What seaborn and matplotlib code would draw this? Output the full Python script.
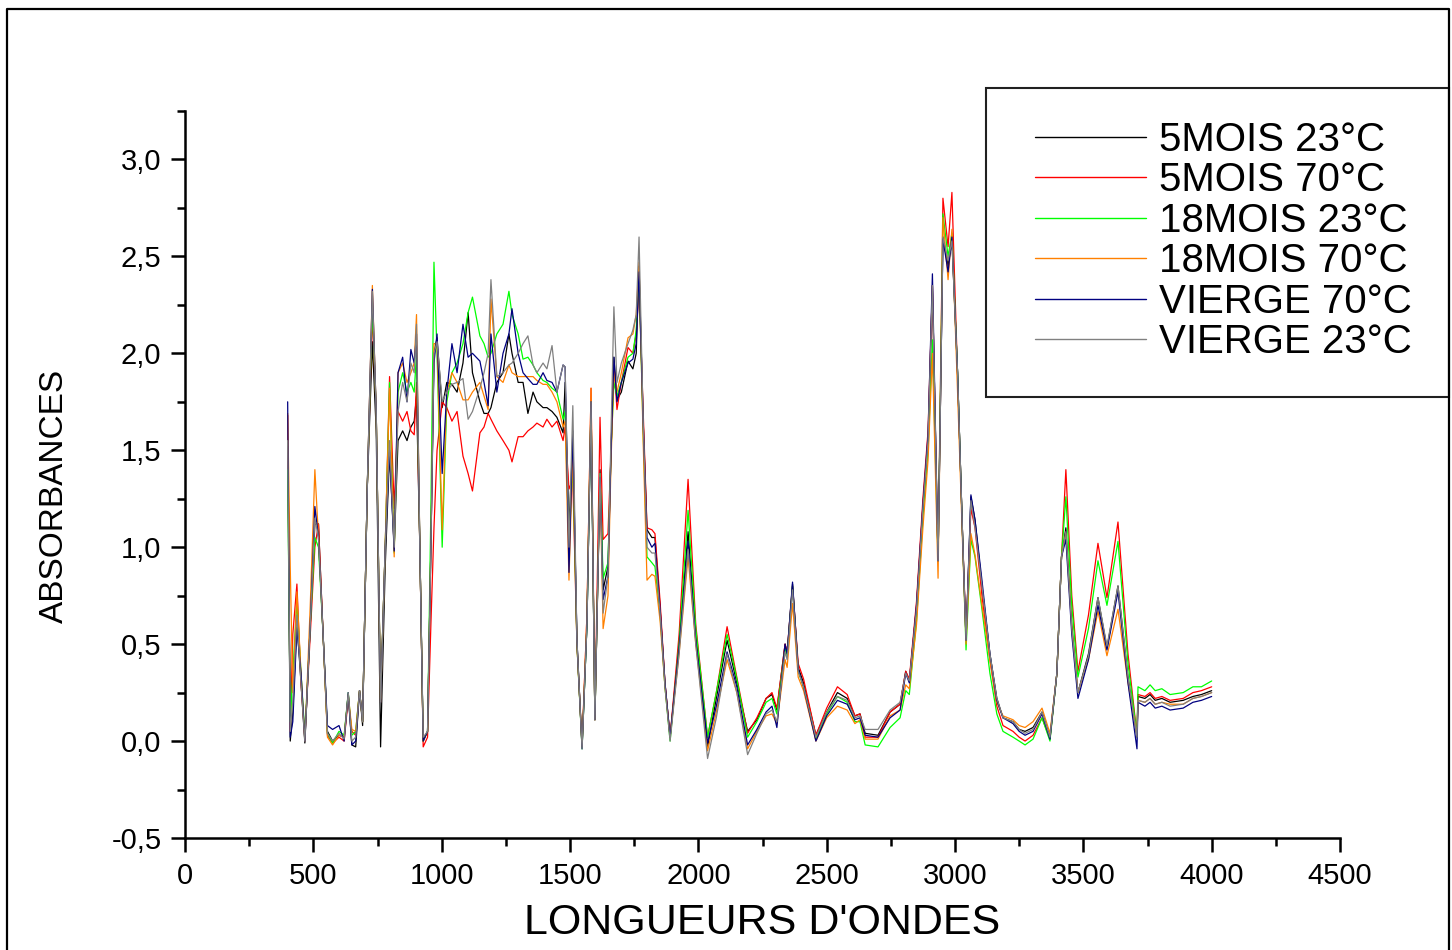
import matplotlib
matplotlib.use("Agg")
import matplotlib.pyplot as plt
import pandas as pd
import seaborn as sns
from matplotlib.lines import Line2D
from matplotlib.patches import Rectangle
from matplotlib.ticker import FuncFormatter, MultipleLocator

# wavenumbers (cm-1) shared by all six spectra
wavenumber = [
    400, 410, 420, 436, 452, 467, 488, 506, 520, 538, 555, 575, 600, 620, 636, 650, 665, 680, 692,
    710, 730, 745, 762, 780, 797, 815, 830, 848, 865, 880, 893, 902, 915, 928, 945, 958, 970,
    982, 1002, 1020, 1040, 1060, 1083, 1103, 1120, 1149, 1165, 1181, 1192, 1215, 1239, 1262,
    1274, 1298, 1317, 1336, 1356, 1371, 1395, 1410, 1430, 1449, 1473,
    1481, 1496, 1511, 1527, 1547, 1566, 1582, 1597, 1617, 1629, 1648, 1660, 1671, 1683, 1700,
    1726, 1745, 1758, 1769, 1785, 1800, 1819, 1831, 1851, 1870, 1890,
    1925, 1960, 1990, 2036, 2070, 2112, 2150, 2192, 2228, 2264, 2287, 2306, 2338, 2346, 2367,
    2389, 2410, 2458, 2500, 2542, 2580, 2610, 2630, 2650, 2700, 2747, 2786, 2808, 2822, 2850,
    2875, 2895,
    2912, 2934, 2953, 2973, 2988, 3010, 3030, 3043, 3062, 3078, 3105, 3136, 3163, 3187, 3226,
    3250, 3273, 3304, 3339, 3370, 3397, 3415, 3432, 3455, 3479, 3520, 3557, 3592, 3635, 3674,
    3709, 3713, 3740, 3760, 3780, 3806, 3838, 3889, 3927, 3960, 4000,
]

mois5_23 = [
    1.52, 0.00, 0.15, 0.62, 0.30, -0.01, 0.60, 1.12, 1.12, 0.55, 0.05, 0.00, 0.03, 0.02, 0.24, -0.02, -0.03, 0.26, 0.08,
    1.30, 2.06, 1.60, -0.03, 0.90, 1.49, 1.00, 1.55, 1.60, 1.55, 1.62, 1.65, 1.78, 1.00, 0.00, 0.05, 1.00, 2.00,
    2.08, 1.72, 1.85, 1.84, 1.80, 1.95, 2.21, 1.90, 1.75, 1.69, 1.69, 1.72, 1.85, 1.90, 2.10,
    2.00, 1.85, 1.85, 1.69, 1.80, 1.75, 1.72, 1.72, 1.70, 1.67, 1.59,
    1.85, 1.10, 1.55, 0.52, -0.03, 0.60, 1.72, 0.11, 1.40, 0.78, 0.90, 1.50, 1.98, 1.76, 1.80,
    1.96, 1.92, 2.00, 2.45, 1.66, 1.09, 1.05, 1.05, 0.69, 0.30, 0.02,
    0.50, 1.08, 0.55, -0.03, 0.22, 0.52, 0.30, 0.05, 0.11, 0.22, 0.24, 0.16, 0.50, 0.45, 0.81,
    0.38, 0.30, 0.03, 0.15, 0.25, 0.22, 0.13, 0.14, 0.04, 0.03, 0.15, 0.19, 0.36, 0.31, 0.69,
    1.21, 1.55,
    2.35, 0.93, 2.60, 2.45, 2.58, 1.90, 1.04, 0.52, 1.26, 1.14, 0.80, 0.45, 0.22, 0.12, 0.10,
    0.06, 0.05, 0.07, 0.15, 0.02, 0.35, 0.95, 1.10, 0.60, 0.25, 0.45, 0.74, 0.48, 0.80, 0.33,
    0.02, 0.23, 0.22, 0.24, 0.21, 0.22, 0.20, 0.21, 0.23, 0.24, 0.26,
]

mois5_70 = [
    1.68, 0.05, 0.55, 0.81, 0.30, 0.02, 0.55, 1.00, 1.12, 0.55, 0.03, -0.01, 0.02, 0.00, 0.22, 0.05, 0.03, 0.26, 0.10,
    1.30, 2.20, 1.70, 0.22, 1.00, 1.88, 1.20, 1.70, 1.65, 1.70, 1.60, 1.58, 1.85, 1.00, -0.03, 0.02, 0.60, 1.10,
    1.50, 1.75, 1.72, 1.65, 1.70, 1.47, 1.38, 1.29, 1.59, 1.62, 1.69, 1.66, 1.60, 1.55, 1.50,
    1.44, 1.57, 1.57, 1.60, 1.62, 1.64, 1.62, 1.66, 1.62, 1.65, 1.55,
    1.62, 1.30, 1.35, 0.50, -0.02, 0.65, 1.82, 0.11, 1.67, 1.04, 1.07, 1.50, 1.95, 1.71, 1.85,
    2.03, 2.00, 2.10, 2.35, 1.70, 1.10, 1.09, 1.07, 0.72, 0.30, 0.02,
    0.55, 1.35, 0.60, 0.02, 0.25, 0.59, 0.33, 0.04, 0.12, 0.22, 0.25, 0.17, 0.50, 0.46, 0.80,
    0.40, 0.32, 0.03, 0.17, 0.28, 0.24, 0.13, 0.14, 0.02, 0.02, 0.15, 0.19, 0.36, 0.32, 0.72,
    1.25, 1.60,
    2.35, 0.93, 2.80, 2.55, 2.83, 1.90, 1.04, 0.55, 1.20, 1.10, 0.75, 0.42, 0.18, 0.08, 0.05,
    0.02, 0.00, 0.03, 0.12, 0.01, 0.35, 0.95, 1.40, 0.75, 0.36, 0.65, 1.02, 0.74, 1.13, 0.45,
    0.03, 0.24, 0.23, 0.25, 0.22, 0.23, 0.21, 0.22, 0.25, 0.26, 0.28,
]

mois18_23 = [
    1.40, 0.10, 0.35, 0.72, 0.35, 0.03, 0.60, 1.05, 1.00, 0.55, 0.04, -0.01, 0.05, 0.03, 0.25, 0.03, 0.05, 0.26, 0.10,
    1.30, 2.25, 1.70, 0.22, 1.00, 1.85, 0.97, 1.80, 1.90, 1.80, 1.85, 1.80, 2.00, 1.00, 0.00, 0.05, 1.20, 2.47,
    2.00, 1.00, 1.75, 1.90, 1.95, 2.05, 2.21, 2.29, 2.09, 2.05, 1.98, 2.00, 2.10, 2.15, 2.32,
    2.20, 2.10, 1.97, 1.98, 1.94, 1.90, 1.86, 1.85, 1.82, 1.80, 1.66,
    1.70, 1.00, 1.45, 0.50, -0.04, 0.60, 1.75, 0.11, 1.38, 0.84, 0.92, 1.50, 1.85, 1.78, 1.85,
    1.98, 2.00, 2.12, 2.40, 1.60, 0.95, 0.92, 0.90, 0.65, 0.28, 0.00,
    0.50, 1.19, 0.58, 0.02, 0.25, 0.55, 0.32, 0.02, 0.10, 0.20, 0.22, 0.14, 0.48, 0.44, 0.80,
    0.36, 0.28, 0.01, 0.14, 0.23, 0.20, 0.10, 0.10, -0.02, -0.03, 0.07, 0.12, 0.26, 0.24, 0.62,
    1.15, 1.50,
    2.07, 0.93, 2.72, 2.50, 2.62, 1.90, 1.04, 0.47, 1.04, 0.95, 0.68, 0.35, 0.14, 0.05, 0.02,
    0.00, -0.02, 0.01, 0.12, 0.00, 0.35, 0.95, 1.26, 0.70, 0.33, 0.58, 0.93, 0.70, 1.03, 0.40,
    0.03, 0.28, 0.26, 0.29, 0.26, 0.27, 0.24, 0.25, 0.28, 0.28, 0.31,
]

mois18_70 = [
    1.69, 0.90, 0.25, 0.77, 0.35, 0.00, 0.70, 1.40, 1.05, 0.55, 0.02, -0.02, 0.03, 0.02, 0.24, 0.06, 0.05, 0.26, 0.10,
    1.30, 2.35, 1.70, 0.20, 1.00, 1.82, 0.95, 1.90, 1.95, 1.85, 1.90, 1.95, 2.20, 1.00, 0.00, 0.05, 1.00, 2.05,
    2.05, 1.09, 1.80, 1.90, 1.85, 1.76, 1.76, 1.80, 1.85, 1.78, 1.71, 2.28, 1.88, 1.85, 1.94,
    1.90, 1.88, 1.88, 1.88, 1.88, 1.86, 1.84, 1.84, 1.80, 1.75, 1.62,
    1.65, 0.83, 1.50, 0.50, -0.03, 0.65, 1.82, 0.11, 1.35, 0.58, 0.75, 1.45, 1.90, 1.80, 1.90,
    2.08, 2.10, 2.20, 2.47, 1.55, 0.83, 0.86, 0.85, 0.62, 0.28, 0.02,
    0.45, 0.95, 0.50, -0.05, 0.15, 0.42, 0.25, -0.04, 0.05, 0.13, 0.14, 0.09, 0.42, 0.38, 0.71,
    0.33, 0.26, 0.00, 0.12, 0.18, 0.16, 0.09, 0.11, 0.01, 0.01, 0.13, 0.16, 0.29, 0.27, 0.60,
    1.10, 1.45,
    2.00, 0.84, 2.70, 2.38, 2.64, 1.80, 1.00, 0.50, 1.07, 0.96, 0.70, 0.42, 0.20, 0.13, 0.11,
    0.08, 0.07, 0.10, 0.17, 0.04, 0.35, 0.95, 1.07, 0.58, 0.25, 0.42, 0.67, 0.44, 0.68, 0.30,
    0.03, 0.21, 0.20, 0.22, 0.19, 0.20, 0.19, 0.19, 0.22, 0.23, 0.25,
]

vierge_70 = [
    1.75, 0.02, 0.10, 0.58, 0.35, 0.00, 0.60, 1.21, 1.05, 0.55, 0.08, 0.06, 0.08, 0.00, 0.25, -0.02, 0.00, 0.26, 0.10,
    1.30, 2.33, 1.70, 0.20, 1.00, 1.50, 0.98, 1.90, 1.98, 1.75, 2.02, 1.95, 2.10, 1.00, 0.00, 0.05, 1.00, 1.95,
    2.10, 1.38, 1.80, 2.05, 1.90, 2.15, 1.98, 2.00, 1.96, 1.85, 1.73, 2.10, 1.80, 2.00, 2.10,
    2.23, 2.00, 1.90, 1.87, 1.84, 1.84, 1.90, 1.86, 1.85, 1.80, 1.94,
    1.93, 0.87, 1.60, 0.52, -0.04, 0.60, 1.75, 0.11, 1.36, 0.73, 0.85, 1.50, 1.98, 1.75, 1.85,
    1.95, 1.97, 2.05, 2.42, 1.65, 1.05, 1.00, 1.02, 0.68, 0.30, 0.02,
    0.48, 1.03, 0.52, -0.01, 0.18, 0.46, 0.28, -0.02, 0.06, 0.15, 0.18, 0.07, 0.50, 0.45, 0.82,
    0.37, 0.28, 0.00, 0.13, 0.21, 0.19, 0.11, 0.12, 0.03, 0.02, 0.12, 0.16, 0.35, 0.30, 0.70,
    1.22, 1.58,
    2.41, 0.93, 2.59, 2.42, 2.60, 1.90, 1.04, 0.52, 1.27, 1.14, 0.83, 0.45, 0.21, 0.12, 0.09,
    0.05, 0.03, 0.05, 0.14, 0.01, 0.35, 0.95, 1.04, 0.55, 0.22, 0.42, 0.70, 0.47, 0.77, 0.30,
    -0.04, 0.20, 0.18, 0.20, 0.17, 0.18, 0.16, 0.17, 0.20, 0.21, 0.23,
]

vierge_23 = [
    1.55, 0.05, 0.20, 0.65, 0.30, 0.00, 0.60, 1.15, 1.05, 0.55, 0.04, 0.00, 0.04, 0.01, 0.25, 0.00, 0.02, 0.26, 0.10,
    1.30, 2.32, 1.70, 0.20, 1.00, 1.55, 1.00, 1.70, 1.85, 1.75, 1.95, 1.90, 2.15, 1.00, 0.02, 0.05, 1.00, 2.00,
    2.06, 1.75, 1.80, 1.84, 1.85, 1.87, 1.66, 1.70, 1.82, 1.90, 2.00, 2.38, 1.88, 1.90, 1.94,
    1.95, 2.00, 2.05, 2.09, 1.94, 1.90, 1.95, 1.92, 2.04, 1.80, 1.94,
    1.93, 1.00, 1.73, 0.52, -0.04, 0.60, 1.75, 0.11, 1.38, 0.66, 0.85, 1.60, 2.24, 1.85, 1.95,
    2.05, 2.12, 2.20, 2.60, 1.65, 1.00, 0.97, 0.97, 0.66, 0.28, 0.00,
    0.45, 0.99, 0.50, -0.09, 0.12, 0.45, 0.25, -0.07, 0.04, 0.14, 0.16, 0.10, 0.46, 0.42, 0.78,
    0.36, 0.28, 0.02, 0.15, 0.23, 0.21, 0.12, 0.13, 0.06, 0.06, 0.16, 0.20, 0.35, 0.31, 0.68,
    1.20, 1.55,
    2.35, 0.93, 2.60, 2.48, 2.58, 1.90, 1.04, 0.52, 1.24, 1.10, 0.80, 0.45, 0.22, 0.12, 0.10,
    0.06, 0.04, 0.06, 0.15, 0.02, 0.35, 0.95, 1.08, 0.58, 0.25, 0.44, 0.74, 0.49, 0.80, 0.33,
    0.02, 0.21, 0.20, 0.22, 0.19, 0.20, 0.18, 0.19, 0.22, 0.23, 0.25,
]

labels = ["5MOIS 23°C", "5MOIS 70°C", "18MOIS 23°C", "18MOIS 70°C", "VIERGE 70°C", "VIERGE 23°C"]
spectra = [mois5_23, mois5_70, mois18_23, mois18_70, vierge_70, vierge_23]
colors = ["#000000", "#ff0000", "#00ff00", "#ff8000", "#000080", "#808080"]

df = pd.concat(
    [pd.DataFrame({"x": wavenumber, "y": ys, "serie": lab}) for lab, ys in zip(labels, spectra)],
    ignore_index=True,
)

sns.set_style("ticks")
plt.rcParams["font.family"] = ["Liberation Sans", "DejaVu Sans"]
for key in ["text.color", "axes.labelcolor", "xtick.color", "ytick.color", "axes.edgecolor"]:
    plt.rcParams[key] = "black"

W, H = 1452, 950
fig = plt.figure(figsize=(W / 100, H / 100), dpi=100)
ax = fig.add_axes([185 / W, 1 - 838 / H, (1340 - 185) / W, (838 - 111) / H])

sns.lineplot(
    data=df, x="x", y="y", hue="serie", hue_order=labels, palette=colors,
    estimator=None, sort=False, lw=0.9, legend=False, ax=ax,
)

ax.set_xlim(0, 4500)
ax.set_ylim(-0.5, 3.25)
ax.xaxis.set_major_locator(MultipleLocator(500))
ax.xaxis.set_minor_locator(MultipleLocator(250))
ax.yaxis.set_major_locator(MultipleLocator(0.5))
ax.yaxis.set_minor_locator(MultipleLocator(0.25))
ax.yaxis.set_major_formatter(FuncFormatter(lambda v, p: f"{v:.1f}".replace(".", ",")))
ax.xaxis.set_major_formatter(FuncFormatter(lambda v, p: f"{v:.0f}"))

sns.despine(ax=ax)
for s in ["left", "bottom"]:
    ax.spines[s].set_linewidth(1.8)
ax.tick_params(which="major", direction="out", length=10, width=1.8, labelsize=21, pad=7)
ax.tick_params(which="minor", direction="out", length=6, width=1.8)

ax.set_xlabel("LONGUEURS D'ONDES", fontsize=31)
ax.set_ylabel("ABSORBANCES", fontsize=24)
ax.xaxis.set_label_coords(0.5, -0.090)
ax.yaxis.set_label_coords(-0.10, 0.47)

# legend: frame drawn by hand so it can reach the page border
handles = [Line2D([], [], color=c, lw=1.0) for c in colors]
ax.legend(
    handles, labels, loc="center left", bbox_to_anchor=(1035 / W, 1 - 241 / H),
    bbox_transform=fig.transFigure, frameon=False, fontsize=29, handlelength=2.75,
    handletextpad=0.32, labelspacing=0.06, borderpad=0, borderaxespad=0,
)
fig.add_artist(Rectangle((986 / W, 1 - 397 / H), (1449 - 986) / W, (397 - 88) / H,
                         transform=fig.transFigure, fill=False, ec="#202020", lw=1.5))

# page border (left, top, right)
fig.add_artist(Line2D([7 / W, 7 / W, 1449 / W, 1449 / W], [0, 1 - 9 / H, 1 - 9 / H, 0],
                      transform=fig.transFigure, color="black", lw=1.6))

fig.savefig("out.png", dpi=100)
